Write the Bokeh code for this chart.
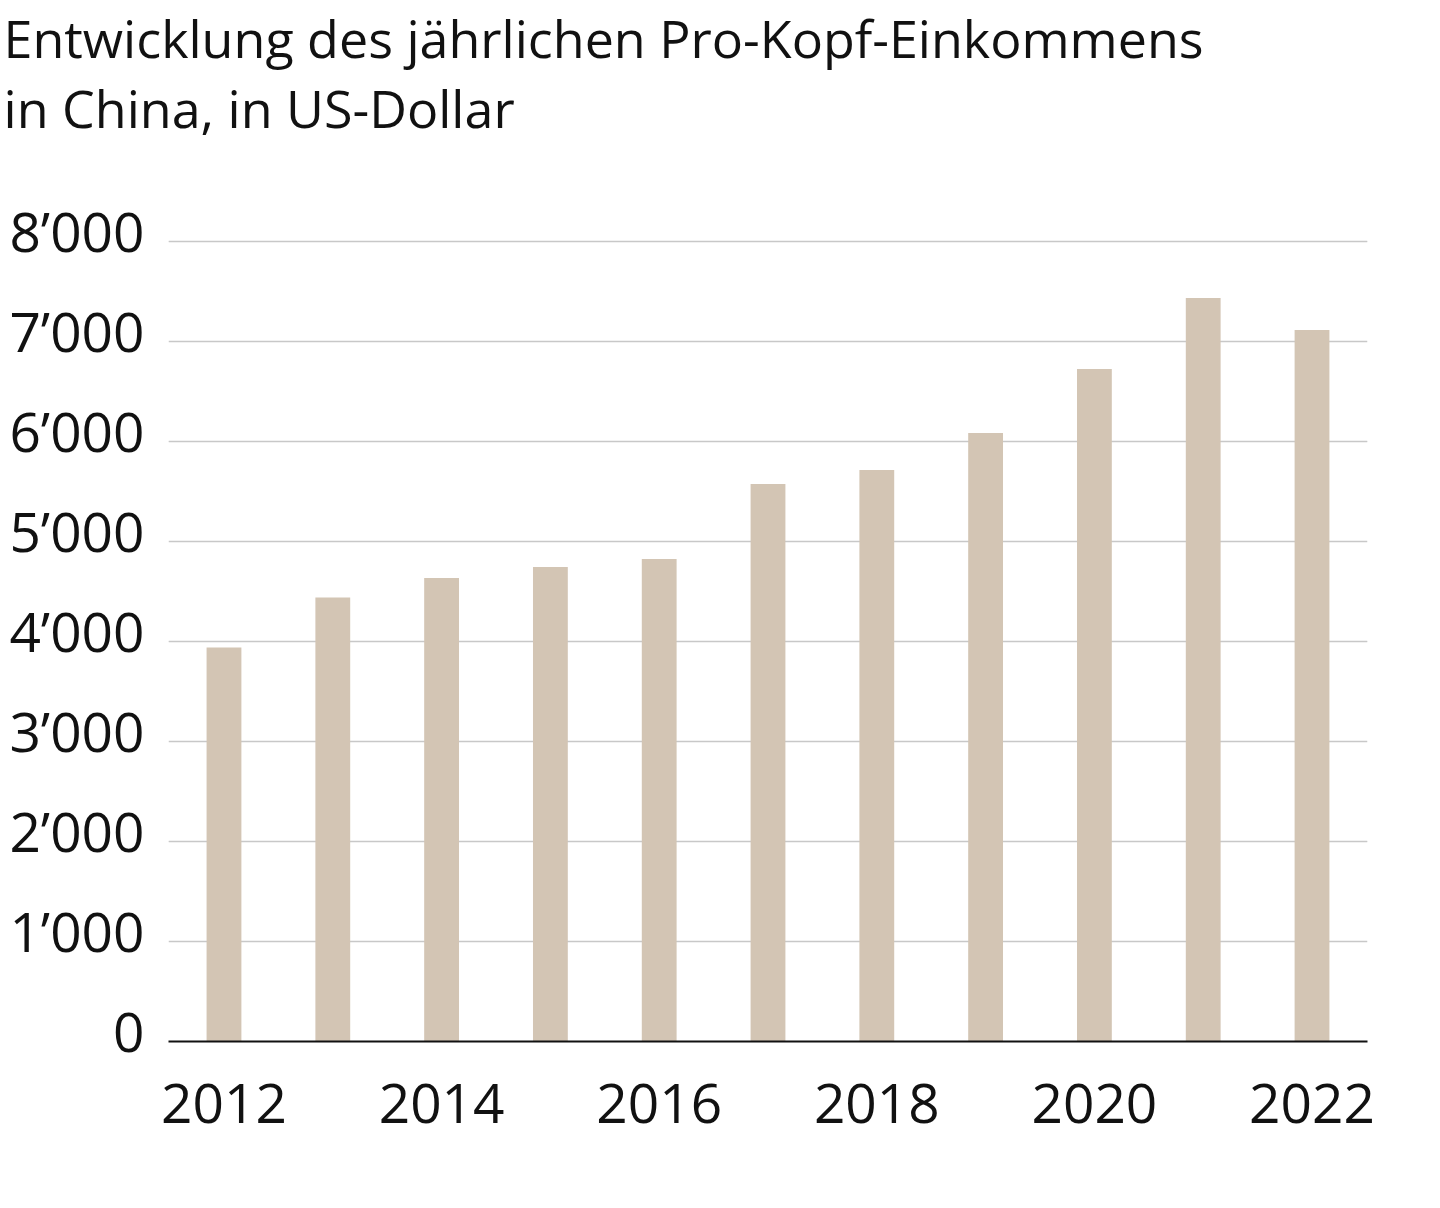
from bokeh.plotting import figure
from bokeh.models import (Title, FixedTicker, Range1d, ColumnDataSource,
                          LinearAxis, Grid)
from bokeh.embed import file_html
from bokeh.resources import INLINE

years = [2012, 2013, 2014, 2015, 2016, 2017, 2018, 2019, 2020, 2021, 2022]
income = [3940, 4440, 4635, 4745, 4825, 5575, 5715, 6085, 6725, 7435, 7115]
y_ticks = [0, 1000, 2000, 3000, 4000, 5000, 6000, 7000, 8000]
y_labels = ["0", "1’000", "2’000", "3’000", "4’000", "5’000", "6’000", "7’000", "8’000"]
x_ticks = [2012, 2014, 2016, 2018, 2020, 2022]
x_labels = ["2012", "2014", "2016", "2018", "2020", "2022"]
title_lines = ["Entwicklung des jährlichen Pro-Kopf-Einkommens", "in China, in US-Dollar"]

FONT = "Open Sans"
TXT = "#111111"
Y_MAX = 8120
LABEL_SHIFT = 110  # lift y tick labels slightly above their grid lines

p = figure(width=1431, height=1171, output_backend="svg", toolbar_location=None,
           x_range=Range1d(2011.49, 2022.51), y_range=Range1d(0, Y_MAX),
           y_axis_location=None,
           min_border_left=168, min_border_right=64, min_border_bottom=130,
           min_border_top=20)
p.extra_y_ranges = {"lab": Range1d(-LABEL_SHIFT, Y_MAX - LABEL_SHIFT)}
p.outline_line_color = None
p.background_fill_color = "white"
p.border_fill_color = "white"

src = ColumnDataSource(dict(x=years, top=income))
p.vbar(x="x", top="top", bottom=0, width=0.32, source=src,
       fill_color="#d3c5b4", line_color=None)

# titles (first added sits nearest to the plot)
spacer = Title(text=" ", text_font=FONT, text_font_size="52px", standoff=17)
t2 = Title(text=title_lines[1], text_font=FONT, text_font_size="52px",
           text_font_style="normal", text_color=TXT, align="left",
           standoff=-6, offset=-165)
t1 = Title(text=title_lines[0], text_font=FONT, text_font_size="52px",
           text_font_style="normal", text_color=TXT, align="left",
           standoff=-1, offset=-165)
p.add_layout(spacer, "above")
p.add_layout(t2, "above")
p.add_layout(t1, "above")

# y axis (labels) and grid
yax = LinearAxis(y_range_name="lab", ticker=FixedTicker(ticks=y_ticks))
yax.major_label_overrides = {t: l for t, l in zip(y_ticks, y_labels)}
yax.axis_line_color = None
yax.major_tick_line_color = None
yax.minor_tick_line_color = None
yax.major_label_text_font = FONT
yax.major_label_text_font_size = "55px"
yax.major_label_text_color = TXT
yax.major_label_standoff = 18
p.add_layout(yax, "left")
p.add_layout(Grid(dimension=1, ticker=FixedTicker(ticks=y_ticks),
                  grid_line_color="#c8c8c8", grid_line_width=1.5))

# x axis
p.xaxis.ticker = FixedTicker(ticks=x_ticks)
p.xaxis.major_label_overrides = {t: l for t, l in zip(x_ticks, x_labels)}
p.xaxis.axis_line_color = "#111111"
p.xaxis.axis_line_width = 2
p.xaxis.major_tick_line_color = None
p.xaxis.minor_tick_line_color = None
p.xaxis.major_label_text_font = FONT
p.xaxis.major_label_text_font_size = "55px"
p.xaxis.major_label_text_color = TXT
p.xaxis.major_label_standoff = 36
p.xgrid.grid_line_color = None

open("out.html", "w").write(file_html(p, INLINE))
